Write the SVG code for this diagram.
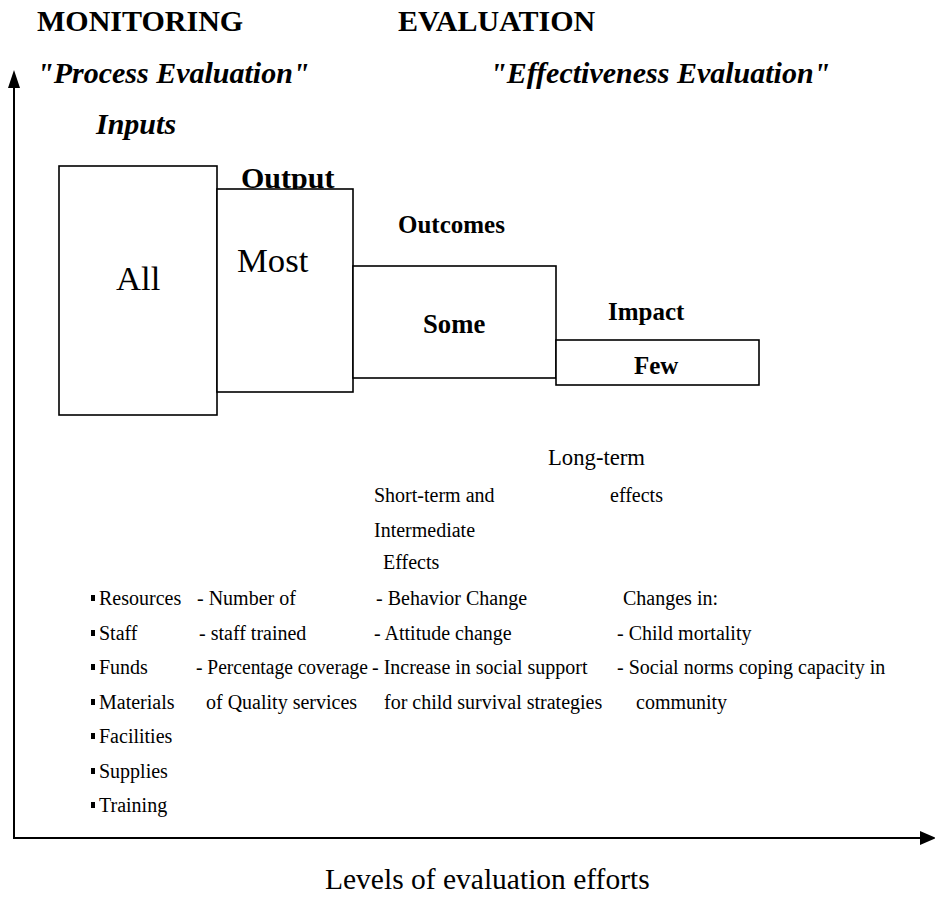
<svg xmlns="http://www.w3.org/2000/svg" width="935" height="899" viewBox="0 0 935 899">
<style>
text{font-family:"Liberation Serif","Times New Roman",serif;fill:#000}
.h{font-size:30px;font-weight:bold}
.hi{font-size:30px;font-weight:bold;font-style:italic}
.big{font-size:34.7px}
.lb{font-size:25px;font-weight:bold}
.t{font-size:20px}
.box{fill:#fff;stroke:#000;stroke-width:1.6}
.ax{stroke:#000;stroke-width:2;fill:none}
</style>
<rect width="935" height="899" fill="#fff"/>
<g id="headings">
<text class="h" x="37" y="31">MONITORING</text>
<text class="h" x="398" y="31">EVALUATION</text>
<text class="hi" x="37" y="83">"Process Evaluation"</text>
<text class="hi" x="490" y="83">"Effectiveness Evaluation"</text>
<text class="hi" x="96" y="134">Inputs</text>
</g>
<g id="connectors">
<line class="ax" x1="14" y1="84" x2="14" y2="839"/>
<polygon points="8,88 14,70 20,88" fill="#000"/>
<line class="ax" x1="13" y1="838" x2="924" y2="838"/>
<polygon points="920,831 936,838 920,845" fill="#000"/>
</g>
<g id="node-inputs">
<rect class="box" x="59" y="166" width="158" height="249"/>
<text class="big" x="116" y="290">All</text>
</g>
<g id="node-output">
<text class="h" x="241" y="188">Output</text>
<rect class="box" x="217" y="189" width="136" height="203"/>
<text class="big" x="237" y="272">Most</text>
</g>
<g id="node-outcomes">
<text class="lb" x="398" y="233">Outcomes</text>
<rect class="box" x="353" y="266" width="203" height="112"/>
<text class="lb" x="423" y="333" style="font-size:26.7px">Some</text>
</g>
<g id="node-impact">
<text class="lb" x="608" y="320">Impact</text>
<rect class="box" x="556" y="340" width="203" height="45"/>
<text class="lb" x="634" y="374">Few</text>
</g>
<g id="effects">
<text class="t" x="548" y="465" style="font-size:22.7px">Long-term</text>
<text class="t" x="374" y="502">Short-term and</text>
<text class="t" x="610" y="502">effects</text>
<text class="t" x="374" y="537">Intermediate</text>
<text class="t" x="383" y="569">Effects</text>
</g>
<g id="list">
<g fill="#000">
<rect x="91" y="595" width="4" height="6"/>
<rect x="91" y="630" width="4" height="6"/>
<rect x="91" y="664" width="4" height="6"/>
<rect x="91" y="699" width="4" height="6"/>
<rect x="91" y="733" width="4" height="6"/>
<rect x="91" y="768" width="4" height="6"/>
<rect x="91" y="802" width="4" height="6"/>
</g>
<text class="t" x="99" y="605">Resources</text>
<text class="t" x="99" y="640">Staff</text>
<text class="t" x="99" y="674">Funds</text>
<text class="t" x="99" y="709">Materials</text>
<text class="t" x="99" y="743">Facilities</text>
<text class="t" x="99" y="778">Supplies</text>
<text class="t" x="99" y="812">Training</text>
<text class="t" x="197" y="605">- Number of</text>
<text class="t" x="199" y="640">- staff trained</text>
<text class="t" x="196" y="674" textLength="172" lengthAdjust="spacingAndGlyphs">- Percentage coverage</text>
<text class="t" x="206" y="709">of Quality services</text>
<text class="t" x="376" y="605">- Behavior Change</text>
<text class="t" x="374" y="640">- Attitude change</text>
<text class="t" x="372" y="674">- Increase in social support</text>
<text class="t" x="384" y="709">for child survival strategies</text>
<text class="t" x="623" y="605">Changes in:</text>
<text class="t" x="617" y="640">- Child mortality</text>
<text class="t" x="617" y="674">- Social norms coping capacity in</text>
<text class="t" x="636" y="709">community</text>
</g>
<text id="axis-label" x="325" y="889" style="font-size:29.5px">Levels of evaluation efforts</text>
</svg>
